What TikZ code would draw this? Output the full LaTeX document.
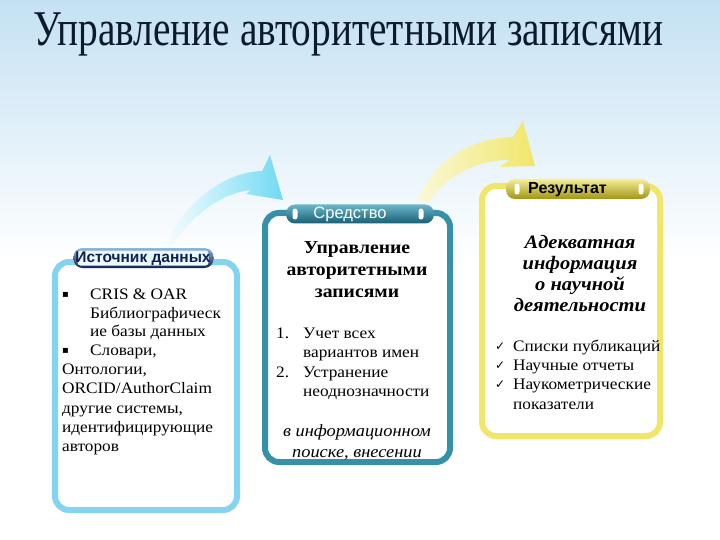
\documentclass[tikz,border=0pt]{standalone}
\usepackage{fontspec}
\usepackage{graphicx}
\setmainfont{Liberation Serif}
\newfontfamily\titlefont[FakeStretch=0.82]{Liberation Serif}
\newfontfamily\pillfont{Liberation Sans}
\newfontfamily\symfont{DejaVu Sans}
\newfontfamily\bodyfont[FakeStretch=1.08]{Liberation Serif}
\definecolor{skyA}{HTML}{C4E1F3}
\definecolor{lblue}{HTML}{84D3F1}
\definecolor{teal}{HTML}{3690A8}
\definecolor{tealD}{HTML}{175F74}
\definecolor{tealL}{HTML}{6CB6CA}
\definecolor{yel}{HTML}{F1E66A}
\definecolor{yelD}{HTML}{A29512}
\definecolor{yelL}{HTML}{F4EE98}
\definecolor{navy}{HTML}{0D2250}
\definecolor{navyL}{HTML}{8DB8DD}
\definecolor{titlec}{HTML}{0B1A2E}
\tikzset{
  boxframe/.style={draw=#1, line width=6pt, rounded corners=14pt, fill=white, inner sep=0pt},
  pill/.style={rounded corners=9pt, inner sep=0pt, minimum height=19pt},
  marker/.style={fill=white, rounded corners=2.5pt, minimum width=5pt, minimum height=11pt, inner sep=0pt},
  body/.style={font=\bodyfont\fontsize{16}{19}\selectfont, inner sep=0pt, text=black},
  bodyc/.style={body, anchor=base},
  bodyl/.style={body, anchor=base west},
  headb/.style={bodyc, font=\bodyfont\bfseries\fontsize{18.2}{21}\selectfont},
  headbi/.style={bodyc, font=\bodyfont\bfseries\itshape\fontsize{19}{21}\selectfont},
  headi/.style={bodyc, font=\bodyfont\itshape\fontsize{17}{20}\selectfont},
  sym/.style={font=\symfont\fontsize{12}{14}\selectfont, inner sep=0pt, anchor=base west},
  bul/.style={font=\symfont\fontsize{10}{12}\selectfont, inner sep=0pt, anchor=base west},
}
\begin{document}
\begin{tikzpicture}[x=1pt,y=-1pt]
\useasboundingbox (0,0) rectangle (720,540);
\fill[white] (0,0) rectangle (720,540);
\shade[top color=skyA, bottom color=white] (0,0) rectangle (720,260);

% title
\node[anchor=base west, inner sep=0pt, text=titlec] (title) at (33,46)
      {\resizebox{630pt}{\height}{\titlefont\fontsize{50}{56}\selectfont Управление авторитетными записями}};

% arrows
\shade[left color=white, right color=lblue!85!cyan]
  (160,252) .. controls (182,205) and (222,172) .. (262,171)
  -- (270,155) -- (283,200) -- (246,194) -- (251,190)
  .. controls (222,193) and (190,215) .. (167,253) -- cycle;
\shade[left color=yelL!40, right color=yel]
  (418,201) .. controls (432,162) and (470,138) .. (513,137)
  -- (523,121) -- (535,166) -- (499,167) -- (510,160)
  .. controls (476,160) and (446,176) .. (430,201) -- cycle;

% boxes
\node[boxframe=lblue, minimum width=182pt, minimum height=248pt] (srcbox) at (146,386) {};
\node[boxframe=teal, minimum width=185pt, minimum height=249pt] (toolbox) at (357.5,337.5) {};
\node[boxframe=yel, minimum width=178pt, minimum height=250pt] (resbox) at (571,311) {};

% pills
\node[pill, top color=navyL, bottom color=navy, minimum width=140pt, minimum height=20pt] (srcpill) at (143.5,258) {};
\node[fill=white!85!lblue, rounded corners=3pt, minimum width=131pt, minimum height=15pt, inner sep=0pt] (srcpillbg) at (143,258) {};
\node[inner sep=0pt, text=navy, font=\pillfont\bfseries\fontsize{15.5}{17}\selectfont] (srclabel) at (143,258.5) {Источник данных};

\node[pill, top color=tealL, bottom color=tealD, minimum width=148pt, minimum height=19pt] (toolpill) at (360,214) {};
\node[marker] (tm1) at (295,214) {};
\node[marker] (tm2) at (421,214) {};
\node[inner sep=0pt, text=white, font=\pillfont\fontsize{16.5}{18}\selectfont] (toollabel) at (350,214.5) {Средство};

\node[pill, top color=yelL, bottom color=yelD, minimum width=144pt, minimum height=20pt] (respill) at (578,189) {};
\node[marker] (rm1) at (517,189) {};
\node[marker] (rm2) at (641,189) {};
\node[inner sep=0pt, text=black, font=\pillfont\bfseries\fontsize{16}{18}\selectfont] (reslabel) at (567.5,189.5) {Результат};

% left text
\node[bul] (lb1) at (62,297) {▪};
\node[bodyl] (l1) at (90,299) {CRIS \& OAR};
\node[bodyl] (l2) at (90,318) {Библиографическ};
\node[bodyl] (l3) at (90,336) {ие базы данных};
\node[bul] (lb2) at (62,353) {▪};
\node[bodyl] (l4) at (90,355) {Словари,};
\node[bodyl] (l5) at (62,374) {Онтологии,};
\node[bodyl] (l6) at (62,393) {ORCID/AuthorClaim};
\node[bodyl] (l7) at (62,413) {другие системы,};
\node[bodyl] (l8) at (62,432) {идентифицирующие};
\node[bodyl] (l9) at (62,451) {авторов};

% middle text
\node[headb] (m1) at (357,253) {Управление};
\node[headb] (m2) at (357,275) {авторитетными};
\node[headb] (m3) at (357,297) {записями};
\node[bodyl] (n1) at (276,338) {1.};
\node[bodyl] (m4) at (303,338) {Учет всех};
\node[bodyl] (m5) at (303,357) {вариантов имен};
\node[bodyl] (n2) at (276,377) {2.};
\node[bodyl] (m6) at (303,377) {Устранение};
\node[bodyl] (m7) at (303,396) {неоднозначности};
\node[headi] (m8) at (357,436) {в информационном};
\node[headi] (m9) at (357,457) {поиске, внесении};

% right text
\node[headbi] (r1) at (580,248) {Адекватная};
\node[headbi] (r2) at (580,269) {информация};
\node[headbi] (r3) at (580,290) {о научной};
\node[headbi] (r4) at (580,311) {деятельности};
\node[sym] (c1) at (495,350) {✓};
\node[bodyl] (r5) at (513,351) {Списки публикаций};
\node[sym] (c2) at (495,369) {✓};
\node[bodyl] (r6) at (513,370) {Научные отчеты};
\node[sym] (c3) at (495,388) {✓};
\node[bodyl] (r7) at (513,389) {Наукометрические};
\node[bodyl] (r8) at (513,409) {показатели};
\end{tikzpicture}
\end{document}
